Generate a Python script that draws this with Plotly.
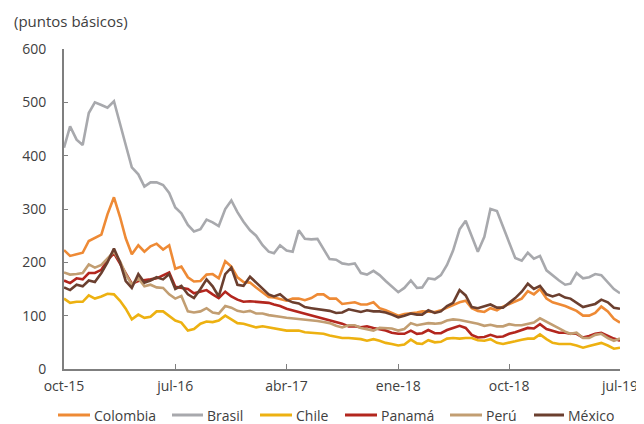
import plotly.graph_objects as go
import datetime as dt

# Semi-monthly observation dates (1st and 16th), Oct-2015 .. Jul-2019
dates = []
y, m = 2015, 10
while (y, m) <= (2019, 7):
    dates.append(dt.date(y, m, 1))
    if (y, m) != (2019, 7):
        dates.append(dt.date(y, m, 16))
    m += 1
    if m > 12:
        m, y = 1, y + 1

colombia = [223, 212, 215, 218, 240, 246, 252, 290, 322, 285, 245, 215, 232, 220, 230, 235,
            224, 232, 188, 192, 172, 164, 165, 177, 178, 170, 202, 192, 172, 163, 162, 153,
            143, 135, 134, 131, 128, 132, 132, 129, 133, 140, 140, 132, 132, 122, 124, 125,
            121, 121, 125, 114, 110, 105, 100, 103, 104, 106, 108, 108, 107, 110, 115, 121,
            125, 128, 114, 109, 107, 114, 110, 117, 122, 126, 132, 146, 140, 150, 132, 125,
            122, 118, 114, 109, 100, 100, 105, 117, 108, 94, 87]
brasil = [415, 455, 430, 420, 480, 500, 495, 490, 502, 462, 420, 378, 365, 342, 350, 350,
          345, 330, 303, 292, 270, 258, 262, 280, 275, 268, 300, 316, 294, 276, 260, 250,
          232, 220, 217, 232, 222, 220, 260, 244, 243, 244, 225, 206, 205, 198, 196, 198,
          180, 177, 184, 176, 165, 155, 144, 152, 166, 152, 153, 170, 168, 176, 195, 222,
          262, 278, 250, 220, 248, 300, 296, 266, 238, 208, 203, 218, 207, 212, 185, 175,
          166, 158, 160, 180, 170, 172, 178, 176, 163, 150, 142]
chile = [132, 124, 126, 126, 138, 132, 136, 141, 140, 128, 113, 93, 102, 96, 98, 108,
         108, 100, 91, 87, 72, 75, 85, 89, 88, 91, 100, 93, 86, 85, 82, 78,
         80, 78, 75, 74, 72, 72, 72, 69, 68, 66, 66, 63, 60, 58, 58, 57,
         56, 53, 56, 53, 49, 47, 44, 46, 55, 48, 47, 54, 50, 51, 57, 58,
         57, 58, 58, 54, 53, 56, 49, 47, 49, 52, 55, 57, 57, 65, 56, 49,
         47, 47, 47, 44, 40, 43, 46, 49, 44, 38, 40]
panama = [166, 161, 170, 168, 180, 180, 186, 204, 217, 198, 178, 160, 165, 166, 168, 170,
          175, 181, 154, 152, 150, 142, 145, 148, 140, 133, 145, 136, 130, 126, 127, 126,
          125, 124, 121, 118, 113, 110, 107, 104, 101, 97, 95, 92, 88, 85, 80, 80,
          78, 80, 77, 75, 72, 68, 66, 66, 72, 66, 67, 73, 67, 67, 73, 77,
          81, 77, 64, 59, 60, 64, 60, 61, 66, 69, 73, 77, 76, 84, 75, 71,
          68, 68, 66, 66, 59, 62, 66, 68, 62, 57, 53]
peru = [181, 177, 178, 180, 196, 190, 195, 208, 220, 202, 178, 158, 170, 155, 158, 153,
        152, 140, 132, 137, 108, 106, 108, 114, 106, 104, 118, 115, 109, 107, 109, 104,
        104, 101, 100, 98, 96, 95, 94, 92, 91, 90, 88, 86, 81, 78, 82, 82,
        77, 75, 72, 77, 77, 76, 72, 75, 86, 82, 84, 86, 85, 86, 91, 93,
        92, 90, 87, 85, 81, 83, 80, 80, 84, 82, 82, 85, 87, 95, 89, 82,
        76, 70, 66, 68, 58, 58, 64, 66, 58, 53, 57]
mexico = [153, 148, 158, 155, 166, 163, 180, 200, 226, 200, 165, 152, 178, 162, 166, 172,
          168, 178, 150, 156, 140, 133, 150, 168, 155, 136, 178, 190, 158, 156, 173, 162,
          151, 140, 136, 140, 130, 125, 123, 116, 114, 112, 110, 109, 105, 106, 112, 110,
          107, 110, 108, 108, 106, 102, 97, 100, 104, 102, 102, 110, 105, 108, 118, 124,
          148, 138, 116, 114, 117, 121, 115, 115, 124, 133, 145, 160, 150, 156, 140, 136,
          140, 134, 132, 125, 116, 119, 122, 130, 125, 115, 113]

tick_dates = ["2015-10-01", "2016-07-01", "2017-04-01", "2018-01-01", "2018-10-01", "2019-07-01"]
tick_labels = ["oct-15", "jul-16", "abr-17", "ene-18", "oct-18", "jul-19"]
y_ticks = [0, 100, 200, 300, 400, 500, 600]

names = ["Colombia", "Brasil", "Chile", "Panamá", "Perú", "México"]
values = [colombia, brasil, chile, panama, peru, mexico]
colors = ["#EE8A35", "#A8A9AD", "#EDB111", "#B3261E", "#C29E72", "#6B3F2F"]

# Page body has an 8px default margin: the figure is sized to fit the 644x424 window.
OFF = 8
W, H = 644 - OFF, 424 - OFF
# desired plot box in window pixels: x 64..620, y 49..369
L, R = 64 - OFF, W - (620 - OFF)
T, B = 49 - OFF, H - (369 - OFF)
PW, PH = W - L - R, H - T - B

def px_x(p):  # window pixel -> paper x
    return (p - OFF - L) / PW

def px_y(p):  # window pixel -> paper y
    return (H - B - (p - OFF)) / PH

fig = go.Figure()
for name, vals, col in zip(names, values, colors):
    fig.add_trace(go.Scatter(x=dates, y=vals, name=name, mode="lines",
                             line=dict(color=col, width=2.6)))

# custom legend row (symbol start, symbol end, text start) in window pixels
legend_pos = [(58, 90, 92), (172, 203, 205), (260, 292, 294),
              (345, 377, 379), (450, 482, 484), (534, 564, 566)]
legend_y = px_y(415)
shapes, annotations = [], []
for (s0, s1, t0), name, col in zip(legend_pos, names, colors):
    shapes.append(dict(type="line", xref="paper", yref="paper",
                       x0=px_x(s0), x1=px_x(s1), y0=legend_y, y1=legend_y,
                       line=dict(color=col, width=3)))
    annotations.append(dict(text=name, xref="paper", yref="paper",
                            x=px_x(t0), y=legend_y, xanchor="left", yanchor="middle",
                            showarrow=False, font=dict(size=14, color="#404040")))

annotations.append(dict(text="(puntos básicos)", xref="paper", yref="paper",
                        x=px_x(12), y=px_y(21), xanchor="left", yanchor="middle",
                        showarrow=False, font=dict(size=15, color="#404040")))

font_family = "Open Sans, Noto Sans, sans-serif"
fig.update_layout(
    width=W, height=H,
    margin=dict(l=L, r=R, t=T, b=B, autoexpand=False),
    paper_bgcolor="white", plot_bgcolor="white",
    font=dict(family=font_family, size=14, color="#404040"),
    showlegend=False,
    shapes=shapes, annotations=annotations,
)
fig.update_xaxes(
    range=[tick_dates[0], tick_dates[-1]],
    tickvals=tick_dates, ticktext=tick_labels,
    showline=True, linecolor="#7F7F7F", linewidth=2,
    ticks="inside", ticklen=5, tickcolor="#7F7F7F", tickwidth=1,
    showgrid=False, zeroline=False, ticklabelstandoff=3,
)
fig.update_yaxes(
    range=[0, 600], tickvals=y_ticks,
    showline=True, linecolor="#7F7F7F", linewidth=2,
    ticks="inside", ticklen=4, tickcolor="#7F7F7F", tickwidth=1,
    showgrid=False, zeroline=False, ticklabelstandoff=13,
)
fig.write_html("out.html")
